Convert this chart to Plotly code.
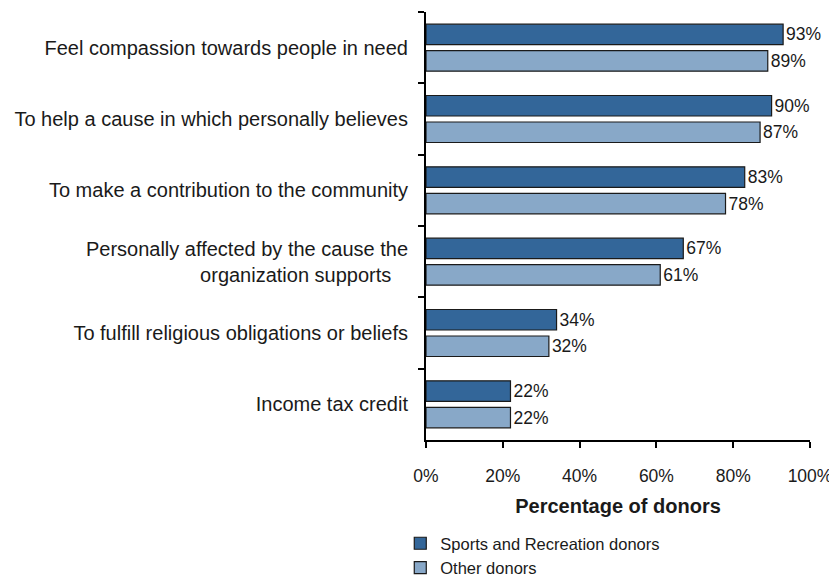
import plotly.graph_objects as go

categories = [
    "Feel compassion towards people in need",
    "To help a cause in which personally believes",
    "To make a contribution to the community",
    "Personally affected by the cause the<br>organization supports\u00a0\u00a0\u00a0",
    "To fulfill religious obligations or beliefs",
    "Income tax credit",
]
sports = [93, 90, 83, 67, 34, 22]
other = [89, 87, 78, 61, 32, 22]
series_names = ["Sports and Recreation donors", "Other donors"]

fnt = "Liberation Sans, Arial, Helvetica, sans-serif"
txt = "#1a1a1a"

fig = go.Figure()
fig.add_trace(go.Bar(
    y=categories, x=sports, orientation="h", name=series_names[0],
    marker=dict(color="#336699", line=dict(color="#1a1a1a", width=1.2)),
    text=[f"{v}%" for v in sports], textposition="outside",
    textfont=dict(size=17.5, color=txt, family=fnt), cliponaxis=False,
))
fig.add_trace(go.Bar(
    y=categories, x=other, orientation="h", name=series_names[1],
    marker=dict(color="#88A8C8", line=dict(color="#1a1a1a", width=1.2)),
    text=[f"{v}%" for v in other], textposition="outside",
    textfont=dict(size=17.5, color=txt, family=fnt), cliponaxis=False,
))

# page body has an 8px default margin, so the figure is sized 8px smaller
fig.update_layout(
    width=829, height=568,
    margin=dict(l=418, r=27, t=4, b=136, autoexpand=False),
    paper_bgcolor="white", plot_bgcolor="white",
    barmode="group", bargap=0.257, bargroupgap=0.226,
    font=dict(family=fnt, size=17.5, color=txt),
    showlegend=True,
    legend=dict(x=-0.067, y=-0.201, xanchor="left", yanchor="top",
                orientation="v", traceorder="normal",
                font=dict(size=16.5, family=fnt, color=txt), itemwidth=30,
                bgcolor="rgba(0,0,0,0)", tracegroupgap=0),
    xaxis=dict(range=[0, 100], dtick=20, ticksuffix="%", showgrid=False,
               zeroline=False, showline=True, linecolor="black", linewidth=2,
               ticks="outside", ticklen=6, tickwidth=2, tickcolor="black",
               ticklabelstandoff=13,
               title=dict(text="<b>Percentage of donors</b>", standoff=14,
                          font=dict(size=20, family=fnt, color=txt)),
               tickfont=dict(size=17.5, family=fnt, color=txt)),
    yaxis=dict(autorange="reversed", showgrid=False, zeroline=False,
               showline=True, linecolor="black", linewidth=2,
               ticks="outside", ticklen=6, tickwidth=2, tickcolor="black",
               tickson="boundaries", ticklabelstandoff=12,
               tickfont=dict(size=20, family=fnt, color=txt)),
)

fig.write_html("out.html")
